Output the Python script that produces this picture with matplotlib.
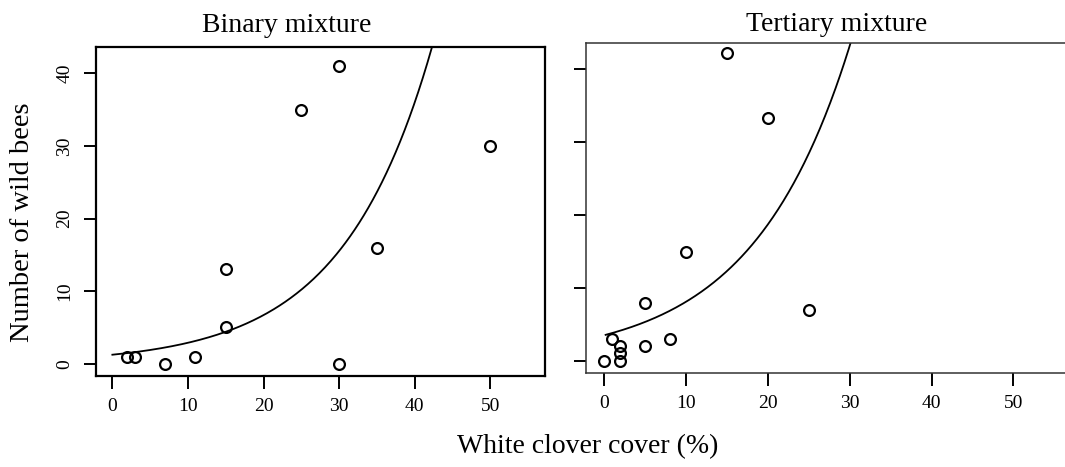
import numpy as np
import matplotlib.pyplot as plt

plt.rcParams['font.family'] = ['Liberation Serif', 'DejaVu Serif']

# Binary mixture: white clover cover (%) vs number of wild bees
bin_cover = [2, 3, 7, 11, 15, 15, 25, 30, 30, 35, 50]
bin_bees = [1, 1, 0, 1, 13, 5, 35, 41, 0, 16, 30]
# fitted exponential (log-link) model: y = exp(b0 + b1 * x)
bin_b0, bin_b1 = np.log(1.25), 0.084

# Tertiary mixture
ter_cover = [0, 2, 2, 2, 1, 5, 8, 5, 10, 25, 15, 20]
ter_bees = [0, 0, 1.1, 2, 3, 2, 3, 8, 15, 7, 42.3, 33.3]
ter_b0, ter_b1 = np.log(3.5), 0.0838

xticks = [0, 10, 20, 30, 40, 50]
yticks = [0, 10, 20, 30, 40]

fig = plt.figure(figsize=(10.65, 4.67), dpi=100)
ax1 = fig.add_axes([0.0899, 0.1949, 0.4215, 0.705])
ax2 = fig.add_axes([0.5502, 0.2013, 0.4568, 0.7073])

x1 = np.linspace(0, 45, 300)
ax1.plot(x1, np.exp(bin_b0 + bin_b1 * x1), color='black', lw=1.3)
ax1.plot(bin_cover, bin_bees, 'o', mfc='none', mec='black', ms=7.8, mew=1.6)

x2 = np.linspace(0.2, 32, 300)
ax2.plot(x2, np.exp(ter_b0 + ter_b1 * x2), color='black', lw=1.3)
ax2.plot(ter_cover, ter_bees, 'o', mfc='none', mec='black', ms=7.8, mew=1.6)

for ax, lw, col in [(ax1, 1.6, 'black'), (ax2, 1.1, '#333333')]:
    ax.set_xlim(-2.2, 57.2)
    ax.set_ylim(-1.68, 43.68)
    ax.set_xticks(xticks)
    ax.set_yticks(yticks)
    for s in ax.spines.values():
        s.set_linewidth(lw)
        s.set_color(col)
    ax.tick_params(direction='out', length=9, width=1.4, pad=7, labelsize=14)

ax1.set_yticklabels([str(v) for v in yticks], rotation=90, va='center')
ax2.tick_params(axis='y', labelleft=False)

fig.text(0.2695, 0.946, 'Binary mixture', ha='center', va='center', fontsize=20)
fig.text(0.786, 0.948, 'Tertiary mixture', ha='center', va='center', fontsize=20)
fig.text(0.021, 0.525, 'Number of wild bees', rotation=90, ha='center', va='center', fontsize=20.5)
fig.text(0.552, 0.043, 'White clover cover (%)', ha='center', va='center', fontsize=20)

fig.savefig('out.png', dpi=100)
